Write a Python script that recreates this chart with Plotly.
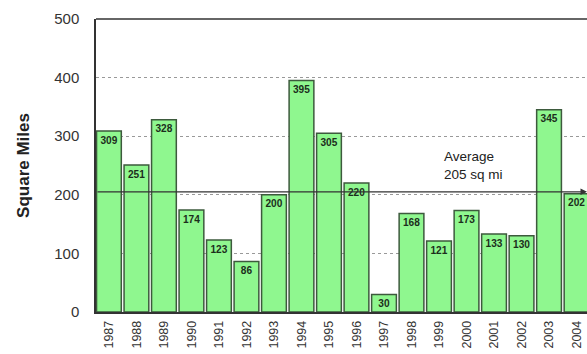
import plotly.graph_objects as go

years = [str(y) for y in range(1987, 2005)]
values = [309, 251, 328, 174, 123, 86, 200, 395, 305, 220, 30, 168, 121, 173, 133, 130, 345, 202]
average = 205
y_ticks = [0, 100, 200, 300, 400, 500]

fig = go.Figure()
fig.add_trace(go.Bar(
    x=list(range(len(years))), y=values,
    marker=dict(color="#8ff78f", line=dict(color="#3d5a3d", width=1.5)),
    text=[f"<b>{v}</b>" for v in values],
    textposition="inside", insidetextanchor="end", textangle=0,
    textfont=dict(family="Arial", size=10.5, color="#1c2e1c"),
    cliponaxis=True, width=0.9,
))

fig.add_annotation(x=17.38, y=average, ax=-0.47, ay=average, axref="x", ayref="y",
                   xref="x", yref="y", showarrow=True, arrowhead=2, arrowsize=1,
                   arrowwidth=1.3, arrowcolor="#333333", text="")
fig.add_annotation(x=12.1, y=average + 14, xref="x", yref="y", xanchor="left", yanchor="bottom",
                   align="left", showarrow=False, text="Average<br>205 sq mi",
                   font=dict(family="Arial", size=13.5, color="#222222"))

fig.update_layout(
    width=587, height=354, margin=dict(l=96, r=0, t=19, b=42),
    paper_bgcolor="white", plot_bgcolor="white", showlegend=False,
    uniformtext=dict(minsize=10, mode="show"),
    xaxis=dict(range=[-0.47, 17.38], tickmode="array", tickvals=list(range(len(years))),
               ticktext=years, tickangle=-90, tickfont=dict(family="Arial", size=12.5, color="#333"),
               showline=True, linecolor="#333", linewidth=1.5, showgrid=False, ticks="", zeroline=False,
               ticklabelstandoff=2),
    yaxis=dict(range=[0, 500], tickvals=y_ticks, tickfont=dict(family="Arial", size=15, color="#333"),
               showline=True, linecolor="#333", linewidth=1.5, mirror=False,
               showgrid=True, gridcolor="#999", griddash="dot", gridwidth=1, zeroline=False,
               ticks="", ticklabelstandoff=12,
               title=dict(text="<b>Square Miles</b>", font=dict(family="Arial", size=17, color="#222"), standoff=20)),
)
fig.add_shape(type="line", xref="paper", yref="paper", x0=0, x1=1, y0=1, y1=1,
              line=dict(color="#333", width=1.5))
fig.write_html("out.html")
